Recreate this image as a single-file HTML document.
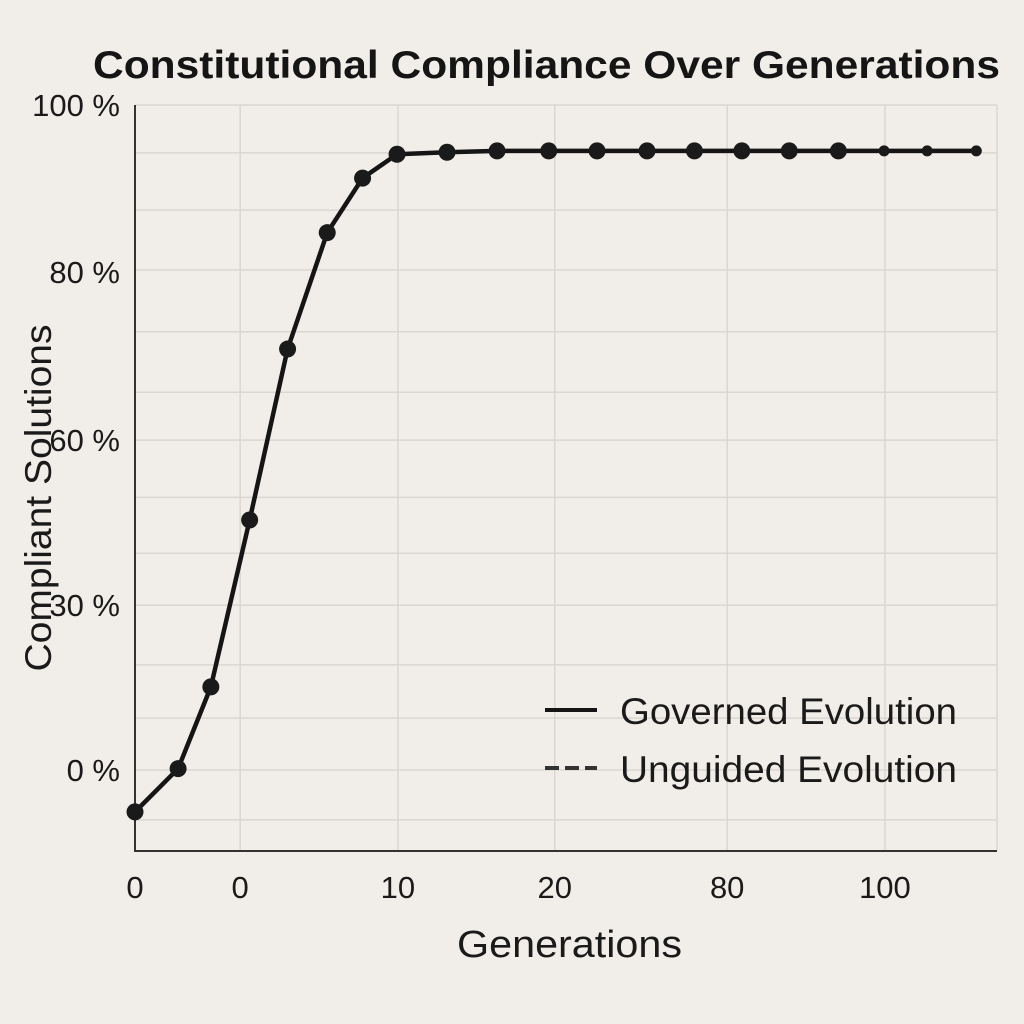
<!DOCTYPE html>
<html><head><meta charset="utf-8"><style>
html,body{margin:0;padding:0;background:#f1ede8;}
svg{display:block;font-family:"Liberation Sans",sans-serif;}
</style></head><body>
<svg id="chart" width="1024" height="1024" viewBox="0 0 1024 1024">
<rect width="1024" height="1024" fill="#f1ede8"/>
<text x="93" y="78" textLength="907" lengthAdjust="spacingAndGlyphs" font-size="39" font-weight="bold" fill="#151515">Constitutional Compliance Over Generations</text>
<g id="grid"></g>
<g id="axes"></g>
<g id="series"></g>
<text transform="translate(51,498) rotate(-90)" text-anchor="middle" font-size="37" fill="#1a1a1a" textLength="347" lengthAdjust="spacingAndGlyphs">Compliant Solutions</text>
<text x="457" y="957" textLength="225" lengthAdjust="spacingAndGlyphs" font-size="38" fill="#1a1a1a">Generations</text>
<g>
<line x1="545" y1="710" x2="597" y2="710" stroke="#151515" stroke-width="4"/>
<text x="620" y="724" textLength="337" lengthAdjust="spacingAndGlyphs" font-size="37" fill="#1a1a1a">Governed Evolution</text>
<line x1="545" y1="768" x2="597" y2="768" stroke="#333" stroke-width="4" stroke-dasharray="14,6"/>
<text x="620" y="782" textLength="337" lengthAdjust="spacingAndGlyphs" font-size="37" fill="#1a1a1a">Unguided Evolution</text>
</g>
</svg>
<script>
const gens=[0,5,8.8,13.3,17.7,22.3,26.4,30.4,36.2,42,48,53.6,59.4,64.9,70.4,75.9,81.6,86.9,91.9,97.6];
const compliance=[-6.3,0.2,12.5,37.6,63.3,80.8,89,92.6,92.9,93.1,93.1,93.1,93.1,93.1,93.1,93.1,93.1,93.1,93.1,93.1];
const xTickVals=[0,12.2,30.5,48.7,68.7,87];
const xTickLabels=["0","0","10","20","80","100"];
const yTickVals=[100,74.9,49.6,24.8,0];
const yTickLabels=["100 %","80 %","60 %","30 %","0 %"];
const xGridVals=[0,12.2,30.5,48.7,68.7,87,100];
const yGridVals=[100,92.8,84.2,75.2,65.9,56.8,49.6,41,32.6,24.8,15.8,7.8,0,-7.5];
const NS="http://www.w3.org/2000/svg";
const X0=135,X1=997,Y0=770,Y1=105;
function sx(v){return X0+(X1-X0)*v/100;}
function sy(v){return Y0-(Y0-Y1)*v/100;}
function mk(t,a,p){const e=document.createElementNS(NS,t);for(const k in a)e.setAttribute(k,a[k]);p.appendChild(e);return e;}
const grid=document.getElementById('grid'),axes=document.getElementById('axes'),ser=document.getElementById('series');
xGridVals.forEach(v=>{const l=mk('line',{x1:sx(v),x2:sx(v),y1:105,y2:850,stroke:'#dad6d0','stroke-width':1.5},grid);

});
yGridVals.forEach(v=>{const l=mk('line',{x1:135,x2:997,y1:sy(v),y2:sy(v),stroke:'#dad6d0','stroke-width':1.5},grid);

});
let a=mk('line',{x1:135,x2:135,y1:105,y2:852,stroke:'#333','stroke-width':2},axes);


a=mk('line',{x1:134,x2:997,y1:851,y2:851,stroke:'#333','stroke-width':2},axes);


xTickVals.forEach((v,i)=>{const t=mk('text',{x:sx(v),y:898,'text-anchor':'middle','font-size':31,fill:'#1a1a1a'},axes);t.textContent=xTickLabels[i];

});
yTickVals.forEach((v,i)=>{const t=mk('text',{x:120,y:sy(v)+11,'text-anchor':'end','font-size':31,fill:'#1a1a1a'},axes);t.textContent=yTickLabels[i];

});
const pts=gens.map((g,i)=>sx(g)+','+sy(compliance[i])).join(' ');
const pl=mk('polyline',{points:pts,fill:'none',stroke:'#151515','stroke-width':4.5,'stroke-linejoin':'round'},ser);


gens.forEach((g,i)=>{const c=mk('circle',{cx:sx(g),cy:sy(compliance[i]),r:i>=17?5.5:8.5,fill:'#1a1a1a'},ser);

});
</script>
</body></html>
